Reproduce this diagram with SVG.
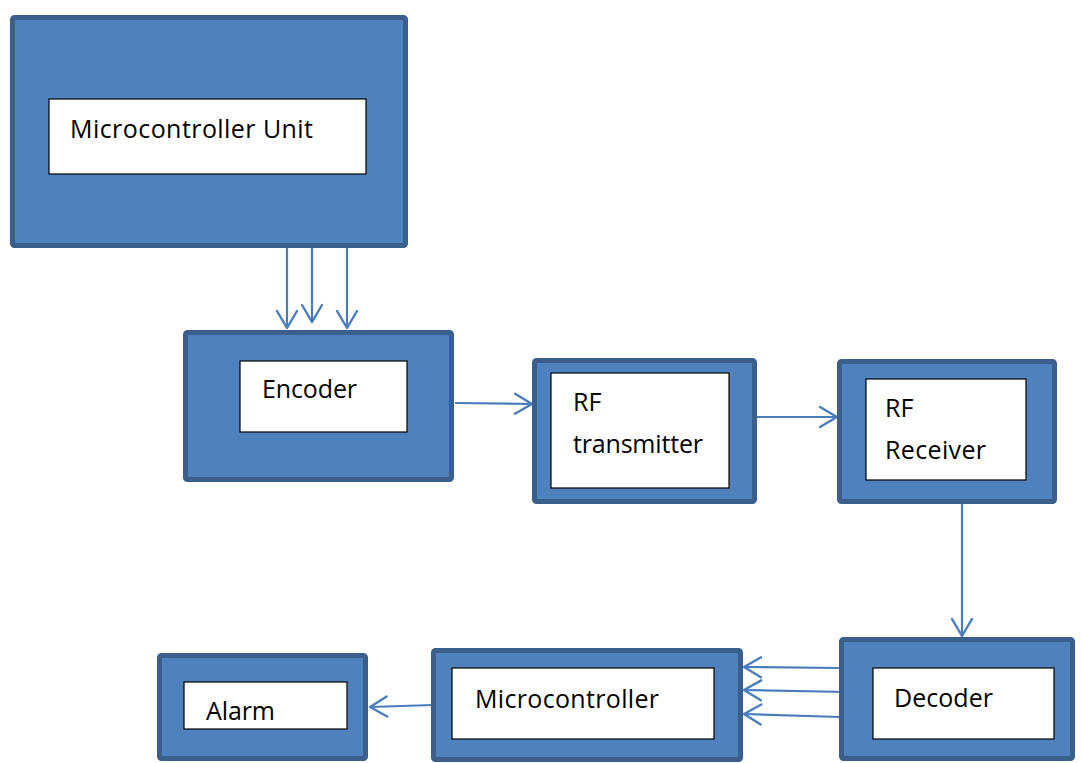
<svg xmlns="http://www.w3.org/2000/svg" width="1082" height="763" viewBox="0 0 1082 763">
  <style>
    .outer { fill: #4f81bd; stroke: #3a5f8d; stroke-width: 5; }
    .inner { fill: #ffffff; stroke: #000000; stroke-width: 1.2; }
    .label { font-family: "Open Sans", "Liberation Sans", sans-serif; font-size: 25px; fill: #000000; }
    .wire { fill: none; stroke: #4a7ebb; stroke-width: 2.2; marker-end: url(#vhead); }
  </style>
  <defs>
    <marker id="vhead" markerUnits="userSpaceOnUse" viewBox="-20 -12 22 24" refX="0" refY="0" markerWidth="22" markerHeight="24" orient="auto" overflow="visible">
      <path d="M-17,-10 L0,0 L-17,10" fill="none" stroke="#4a7ebb" stroke-width="2.4" stroke-linecap="round" stroke-linejoin="round"/>
    </marker>
  </defs>
  <rect width="1082" height="763" fill="#ffffff"/>

  <g id="connectors">
    <path class="wire" d="M287,248 L287,328"/>
    <path class="wire" d="M312,248 L312,322"/>
    <path class="wire" d="M347,248 L347,328"/>
    <path class="wire" d="M455,403 L532,404"/>
    <path class="wire" d="M757,417 L837,417"/>
    <path class="wire" d="M962,504 L962,636"/>
    <path class="wire" d="M840,668 L744,667"/>
    <path class="wire" d="M847,692 L744,690"/>
    <path class="wire" d="M840,717 L744,714"/>
    <path class="wire" d="M433,705 L370,707"/>
  </g>

  <g id="mcu-unit">
    <rect class="outer" x="12.5" y="17.5" width="393" height="228" rx="2"/>
    <rect class="inner" x="49" y="99" width="317" height="75"/>
    <text class="label" x="70" y="138" textLength="243">Microcontroller Unit</text>
  </g>

  <g id="encoder">
    <rect class="outer" x="185.5" y="332.5" width="266" height="147" rx="2"/>
    <rect class="inner" x="240" y="361" width="167" height="71"/>
    <text class="label" x="262" y="398" textLength="95">Encoder</text>
  </g>

  <g id="rf-transmitter">
    <rect class="outer" x="534.5" y="360.5" width="220" height="141" rx="2"/>
    <rect class="inner" x="551" y="373" width="178" height="115"/>
    <text class="label" x="573" y="411">RF</text>
    <text class="label" x="573" y="452.5" textLength="130">transmitter</text>
  </g>

  <g id="rf-receiver">
    <rect class="outer" x="839.5" y="361.5" width="215" height="140" rx="2"/>
    <rect class="inner" x="866" y="379" width="160" height="101"/>
    <text class="label" x="885" y="416.5">RF</text>
    <text class="label" x="885" y="459" textLength="101">Receiver</text>
  </g>

  <g id="decoder">
    <rect class="outer" x="841.5" y="639.5" width="231" height="119" rx="2"/>
    <rect class="inner" x="873" y="668" width="181" height="71"/>
    <text class="label" x="894" y="707" textLength="99">Decoder</text>
  </g>

  <g id="microcontroller">
    <rect class="outer" x="433.5" y="650.5" width="307" height="109" rx="2"/>
    <rect class="inner" x="452" y="668" width="262" height="71"/>
    <text class="label" x="475" y="708" textLength="184">Microcontroller</text>
  </g>

  <g id="alarm">
    <rect class="outer" x="159.5" y="655.5" width="206" height="103" rx="2"/>
    <rect class="inner" x="184" y="682" width="163" height="47"/>
    <text class="label" x="206" y="720" textLength="69">Alarm</text>
  </g>
</svg>
